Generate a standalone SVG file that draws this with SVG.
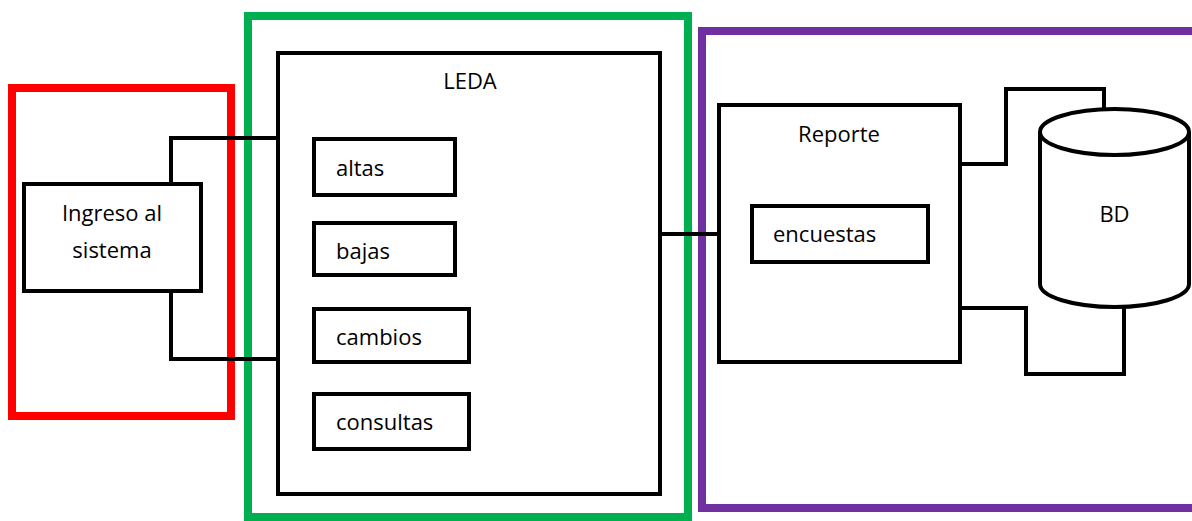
<svg xmlns="http://www.w3.org/2000/svg" width="1192" height="521" viewBox="0 0 1192 521">
<style>
.box{fill:#fff;stroke:#000;stroke-width:4}
.frame{fill:none;stroke-width:8}
.conn{fill:none;stroke:#000;stroke-width:4}
text{font-family:"Open Sans","Liberation Sans",sans-serif;font-size:22px;fill:#000}
</style>
<rect width="1192" height="521" fill="#fff"/>
<g id="frames">
<rect class="frame" x="12" y="88" width="219" height="328" stroke="#ff0000"/>
<rect class="frame" x="248" y="16" width="440" height="501" stroke="#00b050"/>
<rect class="frame" x="702" y="31" width="520" height="477" stroke="#7030a0"/>
</g>
<g id="connectors">
<polyline class="conn" points="171,184 171,138 278,138"/>
<polyline class="conn" points="171,291 171,359 278,359"/>
<line class="conn" x1="660" y1="234" x2="719" y2="234"/>
<polyline class="conn" points="960,164 1006,164 1006,89 1104,89 1104,110"/>
<polyline class="conn" points="960,308 1026,308 1026,374 1124,374 1124,307"/>
</g>
<g id="ingreso">
<rect class="box" x="24" y="184" width="177" height="107"/>
<text x="112" y="221" text-anchor="middle">Ingreso al</text>
<text x="112" y="258" text-anchor="middle">sistema</text>
</g>
<g id="leda">
<rect class="box" x="278" y="53" width="382" height="441"/>
<text x="470" y="89" text-anchor="middle">LEDA</text>
</g>
<g id="altas">
<rect class="box" x="314" y="139" width="141" height="56"/>
<text x="336" y="176">altas</text>
</g>
<g id="bajas">
<rect class="box" x="314" y="223" width="141" height="52"/>
<text x="336" y="259">bajas</text>
</g>
<g id="cambios">
<rect class="box" x="314" y="309" width="155" height="53"/>
<text x="336" y="345">cambios</text>
</g>
<g id="consultas">
<rect class="box" x="314" y="394" width="155" height="55"/>
<text x="336" y="430">consultas</text>
</g>
<g id="reporte">
<rect class="box" x="719" y="105" width="241" height="257"/>
<text x="839" y="142" text-anchor="middle">Reporte</text>
</g>
<g id="encuestas">
<rect class="box" x="752" y="206" width="176" height="56"/>
<text x="773" y="242">encuestas</text>
</g>
<g id="bd">
<path class="box" d="M1040,132 L1040,284 A74.5,23 0 0 0 1189,284 L1189,132"/>
<ellipse class="box" cx="1114.5" cy="132" rx="74.5" ry="23"/>
<text x="1114.5" y="222" text-anchor="middle">BD</text>
</g>
</svg>
